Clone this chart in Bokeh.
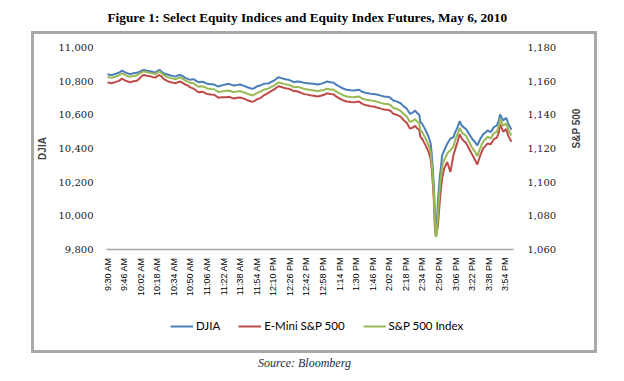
import math
from bokeh.plotting import figure
from bokeh.layouts import column
from bokeh.models import (Range1d, LinearAxis, FixedTicker, NumeralTickFormatter,
                          ColumnDataSource, Legend, LegendItem, Label)
from bokeh.embed import file_html
from bokeh.resources import INLINE

# minutes after 9:30 AM
minutes = [0, 1, 4, 8, 11, 14, 17, 19, 22, 25, 28, 30, 33, 35, 38, 41, 44, 46, 48, 50,
           52, 54, 58, 61, 64, 66, 68, 70, 73, 75, 78, 80, 83, 86, 88, 91, 93, 96, 100, 103,
           107, 110, 112, 115, 117, 120, 122, 125, 128, 132, 135, 138, 140, 142, 144, 148, 151, 154, 156, 158,
           161, 165, 168, 170, 173, 175, 178, 180, 183, 186, 190, 193, 196, 199, 203, 206, 209, 212, 215, 218,
           221, 225, 228, 231, 235, 238, 241, 243, 245, 247, 250, 254, 257, 260, 264, 267, 270, 272, 274, 276,
           279, 283, 286, 289, 292, 295, 297, 299, 301, 302, 304, 307, 310, 312, 313, 314, 315, 316, 317, 318,
           319, 320, 321, 322, 323, 325, 328, 331, 334, 336, 338, 340, 342, 344, 346, 349, 352, 355, 357, 360,
           363, 365, 367, 370, 373, 376, 378, 379, 382, 385, 387, 390]

djia = [10838, 10840, 10836, 10844, 10850, 10863, 10852, 10847, 10842, 10847, 10850, 10853, 10862, 10867, 10862, 10859, 10854, 10851, 10860, 10867,
        10858, 10847, 10840, 10834, 10830, 10828, 10834, 10838, 10828, 10820, 10812, 10808, 10812, 10800, 10794, 10797, 10794, 10784, 10782, 10780,
        10768, 10774, 10778, 10782, 10784, 10778, 10774, 10778, 10780, 10772, 10764, 10758, 10754, 10760, 10768, 10776, 10784, 10786, 10788, 10796,
        10804, 10823, 10818, 10814, 10810, 10808, 10800, 10794, 10798, 10796, 10790, 10788, 10786, 10784, 10780, 10784, 10790, 10798, 10794, 10792,
        10778, 10764, 10755, 10749, 10746, 10744, 10748, 10749, 10740, 10734, 10730, 10725, 10724, 10721, 10714, 10709, 10707, 10705, 10696, 10685,
        10680, 10669, 10650, 10636, 10606, 10615, 10625, 10610, 10600, 10560, 10545, 10510, 10470, 10430, 10370, 10290, 10190, 10030, 9880, 9950,
        10090, 10170, 10240, 10290, 10358, 10388, 10428, 10458, 10467, 10500, 10527, 10562, 10537, 10525, 10517, 10487, 10458, 10437, 10418, 10458,
        10487, 10495, 10507, 10497, 10527, 10537, 10570, 10602, 10566, 10582, 10547, 10511]

sp500 = [1162.2, 1162.4, 1162.0, 1162.8, 1163.4, 1164.7, 1163.6, 1163.1, 1162.6, 1163.1, 1163.4, 1164.2, 1165.3, 1165.8, 1165.3, 1165.0, 1164.5, 1164.2, 1165.1, 1165.8,
         1164.9, 1163.6, 1162.4, 1161.8, 1161.4, 1161.2, 1161.8, 1162.2, 1161.2, 1160.4, 1159.6, 1159.0, 1158.8, 1157.4, 1156.7, 1157.0, 1156.7, 1155.7, 1155.4, 1155.2,
         1153.6, 1153.8, 1154.0, 1154.3, 1154.5, 1153.9, 1153.5, 1153.9, 1154.1, 1153.3, 1152.5, 1151.9, 1151.5, 1152.1, 1152.9, 1153.9, 1155.0, 1155.4, 1155.8, 1156.6,
         1157.4, 1159.3, 1158.8, 1158.4, 1158.0, 1157.8, 1157.0, 1156.4, 1156.6, 1156.2, 1155.4, 1155.0, 1154.7, 1154.5, 1154.1, 1154.5, 1154.8, 1155.5, 1155.1, 1155.0,
         1153.8, 1152.4, 1151.5, 1150.9, 1150.6, 1150.4, 1150.8, 1150.9, 1150.0, 1149.4, 1149.0, 1148.5, 1148.3, 1147.8, 1147.1, 1146.6, 1146.4, 1146.2, 1145.3, 1144.1,
         1143.6, 1142.4, 1140.4, 1139.0, 1135.8, 1136.5, 1137.5, 1136.0, 1135.0, 1131.0, 1129.5, 1126.0, 1122.0, 1118.0, 1112.0, 1104.0, 1094.0, 1078.0, 1067.5, 1069.0,
         1080.0, 1090.0, 1098.0, 1103.0, 1109.0, 1113.0, 1117.0, 1119.0, 1121.0, 1125.5, 1128.5, 1132.2, 1129.7, 1128.5, 1127.7, 1124.2, 1120.5, 1118.0, 1115.5, 1120.5,
         1124.5, 1125.5, 1127.0, 1126.0, 1129.0, 1130.0, 1133.5, 1137.6, 1133.5, 1134.8, 1131.2, 1127.7]

emini = [1159.0, 1159.2, 1158.8, 1159.6, 1160.2, 1161.5, 1160.4, 1159.9, 1159.4, 1159.9, 1160.2, 1161.0, 1163.0, 1163.7, 1163.2, 1162.9, 1162.4, 1162.1, 1163.0, 1163.7,
         1162.8, 1161.3, 1160.0, 1159.4, 1159.0, 1158.8, 1159.4, 1159.8, 1158.8, 1158.0, 1157.2, 1156.3, 1155.6, 1154.2, 1153.4, 1153.7, 1153.4, 1152.4, 1152.1, 1151.9,
         1150.2, 1150.4, 1150.4, 1150.5, 1150.7, 1150.1, 1149.7, 1150.1, 1150.3, 1149.5, 1148.7, 1148.1, 1147.7, 1148.3, 1149.1, 1150.1, 1151.6, 1152.6, 1153.3, 1154.1,
         1155.1, 1157.0, 1156.5, 1156.1, 1155.7, 1155.5, 1154.7, 1154.1, 1154.0, 1153.3, 1152.3, 1152.0, 1151.6, 1151.3, 1150.9, 1151.3, 1151.9, 1152.8, 1152.4, 1152.2,
         1150.8, 1149.4, 1148.5, 1147.9, 1147.6, 1147.4, 1147.8, 1147.9, 1146.9, 1146.2, 1145.7, 1145.1, 1144.9, 1144.4, 1143.7, 1143.2, 1143.0, 1142.8, 1141.9, 1140.6,
         1140.1, 1138.9, 1136.8, 1135.2, 1131.8, 1132.5, 1133.5, 1132.0, 1131.0, 1127.0, 1125.5, 1122.0, 1118.0, 1114.0, 1108.0, 1100.0, 1090.0, 1074.0, 1068.5, 1070.0,
         1074.0, 1082.0, 1090.0, 1096.0, 1102.0, 1108.0, 1112.0, 1106.0, 1116.0, 1120.0, 1124.0, 1128.5, 1126.0, 1124.5, 1123.5, 1120.0, 1116.5, 1113.0, 1110.5, 1116.0,
         1120.5, 1121.5, 1123.0, 1122.5, 1125.5, 1126.5, 1130.0, 1134.5, 1130.0, 1131.5, 1127.5, 1124.0]

tick_minutes = [0, 16, 32, 48, 64, 80, 96, 112, 128, 144, 160, 176, 192, 208, 224, 240,
                256, 272, 288, 304, 320, 336, 352, 368, 384]
tick_labels = ["9:30 AM", "9:46 AM", "10:02 AM", "10:18 AM", "10:34 AM", "10:50 AM", "11:06 AM",
               "11:22 AM", "11:38 AM", "11:54 AM", "12:10 PM", "12:26 PM", "12:42 PM", "12:58 PM",
               "1:14 PM", "1:30 PM", "1:46 PM", "2:02 PM", "2:18 PM", "2:34 PM", "2:50 PM",
               "3:06 PM", "3:22 PM", "3:38 PM", "3:54 PM"]
djia_ticks = [9800, 10000, 10200, 10400, 10600, 10800, 11000]
sp_ticks = [1060, 1080, 1100, 1120, 1140, 1160, 1180]
series_names = ["DJIA", "E-Mini S&P 500", "S&P 500 Index"]

src = ColumnDataSource(data=dict(m=minutes, djia=djia, sp=sp500, emini=emini))

blue = "#4a7ebb"
red = "#be4b48"
green = "#98b954"


def strip(height):
    f = figure(width=612, height=height, sizing_mode="fixed",
               min_border_left=0, min_border_right=0, min_border_top=0, min_border_bottom=0,
               x_range=Range1d(0, 612), y_range=Range1d(0, height),
               x_axis_location=None, y_axis_location=None,
               output_backend="svg", toolbar_location=None,
               background_fill_color=None, border_fill_color=None)
    f.xgrid.visible = False
    f.ygrid.visible = False
    f.outline_line_color = None
    return f


# ---------------- title strip ----------------
t = strip(24)
t.add_layout(Label(x=1, y=15, x_units="screen", y_units="screen",
                   text="Figure 1: Select Equity Indices and Equity Index Futures, May 6, 2010",
                   text_align="left", text_baseline="middle", text_font="Liberation Serif",
                   text_font_style="bold", text_font_size="13.3px", text_color="#000000"))

# ---------------- main chart ----------------
p = figure(width=612, height=273, sizing_mode="fixed",
           min_border_left=98, min_border_right=107, min_border_top=15, min_border_bottom=56,
           x_range=Range1d(-1, 392), y_range=Range1d(9800, 11000),
           output_backend="svg", toolbar_location=None, background_fill_color=None,
           border_fill_color=None)
p.extra_y_ranges = {"sp": Range1d(1060, 1180)}
p.xgrid.visible = False
p.ygrid.visible = False
p.outline_line_color = None

p.line("m", "djia", source=src, line_color=blue, line_width=2)
p.line("m", "emini", source=src, line_color=red, line_width=2, y_range_name="sp")
p.line("m", "sp", source=src, line_color=green, line_width=2, y_range_name="sp")

xa = p.below[0]
xa.ticker = FixedTicker(ticks=tick_minutes)
xa.major_label_overrides = {t_: l for t_, l in zip(tick_minutes, tick_labels)}
xa.major_label_orientation = math.pi / 2
xa.axis_line_color = "#a6a6a6"
xa.axis_line_width = 1.5
xa.major_tick_line_color = None
xa.minor_tick_line_color = None
xa.major_tick_in = 0
xa.major_tick_out = 0
xa.major_label_standoff = 8
xa.major_label_text_font = "Liberation Sans"
xa.major_label_text_font_size = "9px"
xa.major_label_text_color = "#000000"

ya = p.yaxis[0]
ya.ticker = FixedTicker(ticks=djia_ticks)
ya.formatter = NumeralTickFormatter(format="0,0")
ya.axis_line_color = None
ya.major_tick_line_color = None
ya.minor_tick_line_color = None
ya.major_tick_in = 0
ya.major_tick_out = 0
ya.major_label_standoff = 13
ya.major_label_text_font = "DejaVu Serif"
ya.major_label_text_font_size = "10px"
ya.major_label_text_color = "#1a1a1a"
ya.axis_label = "DJIA"
ya.axis_label_text_font = "Liberation Sans"
ya.axis_label_text_font_style = "bold"
ya.axis_label_text_font_size = "10px"
ya.axis_label_standoff = 8

ra = LinearAxis(y_range_name="sp", ticker=FixedTicker(ticks=sp_ticks),
                formatter=NumeralTickFormatter(format="0,0"))
ra.axis_line_color = None
ra.major_tick_line_color = None
ra.minor_tick_line_color = None
ra.major_tick_in = 0
ra.major_tick_out = 0
ra.major_label_standoff = 14
ra.major_label_text_font = "DejaVu Serif"
ra.major_label_text_font_size = "10px"
ra.major_label_text_color = "#1a1a1a"
ra.axis_label = "S&P 500"
ra.axis_label_orientation = math.pi / 2
ra.axis_label_text_font = "Liberation Sans"
ra.axis_label_text_font_style = "bold"
ra.axis_label_text_font_size = "10px"
ra.axis_label_standoff = 17
p.add_layout(ra, "right")

# ---------------- legend + source strip ----------------
q = strip(71)
# legend proxies: same series, far outside this strip's range so only the legend shows them
k_dj = q.line("m", "djia", source=src, line_color=blue, line_width=2)
k_em = q.line("m", "emini", source=src, line_color=red, line_width=2)
k_sp = q.line("m", "sp", source=src, line_color=green, line_width=2)

legend = Legend(items=[LegendItem(label=series_names[0], renderers=[k_dj]),
                       LegendItem(label=series_names[1], renderers=[k_em]),
                       LegendItem(label=series_names[2], renderers=[k_sp])],
                orientation="horizontal", location=(64, 44))
legend.padding = 0
legend.margin = 0
legend.spacing = 18
legend.glyph_width = 23
legend.glyph_height = 12
legend.label_height = 12
legend.label_standoff = 3
legend.label_text_font = "Lato"
legend.label_text_font_size = "11.5px"
legend.label_text_color = "#000000"
legend.border_line_color = None
legend.background_fill_alpha = 0
q.add_layout(legend)

q.add_layout(Label(x=198, y=14, x_units="screen", y_units="screen", text="Source: Bloomberg",
                   text_align="center", text_baseline="middle", text_font="Liberation Serif",
                   text_font_style="italic", text_font_size="12px", text_color="#1f2a44"))

layout = column(t, p, q, width=612, height=368, sizing_mode="fixed", spacing=0,
                margin=(8, 0, 0, 8),
                styles={"outline": "2px solid #a8a8a8", "outline-offset": "-25px",
                        "box-shadow": "inset 0 0 0 24px #ffffff, inset 0 0 0 26px #a8a8a8"})

open("out.html", "w").write(file_html(layout, INLINE))
